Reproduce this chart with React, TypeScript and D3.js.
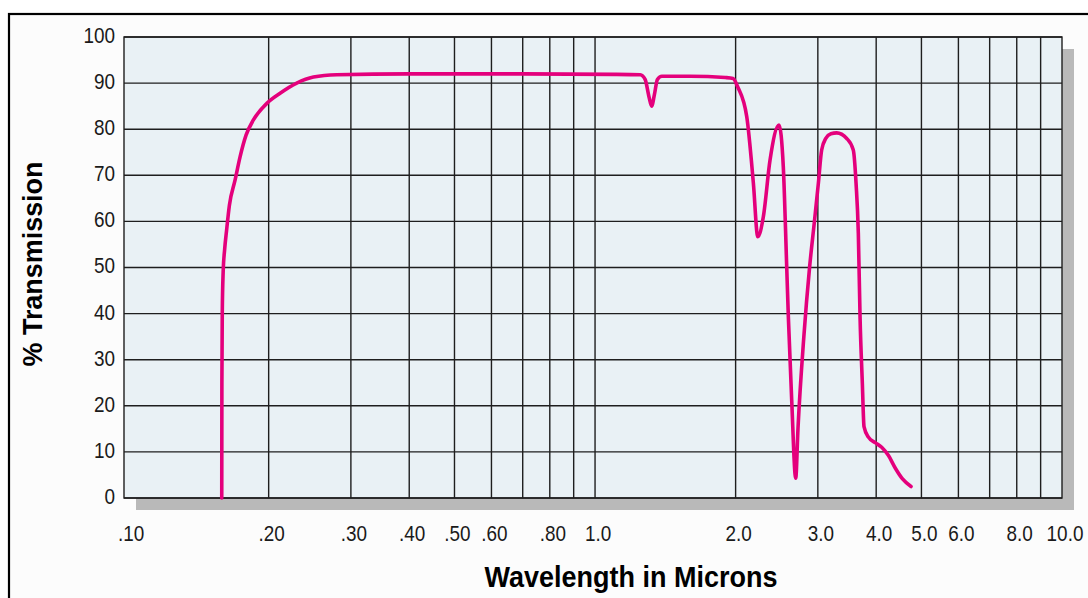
import React, { useEffect, useRef } from 'react';
import * as d3 from 'd3';

// wavelength (microns) vs % transmission
const wavelength = [
  0.1587, 0.1588, 0.1591, 0.1598, 0.161, 0.1625, 0.1648, 0.1695, 0.1737, 0.1789, 0.1855, 0.1982, 0.2116, 0.2297,
  0.2494, 0.2798, 0.4, 0.7, 1.1, 1.25, 1.28, 1.305, 1.322, 1.34, 1.36, 1.39, 1.6, 1.9, 1.975, 2.02, 2.113, 2.183,
  2.231, 2.293, 2.37, 2.477, 2.53, 2.573, 2.594, 2.637, 2.69, 2.72, 2.8, 2.88, 2.95, 3.008, 3.057, 3.12, 3.2, 3.292,
  3.459, 3.573, 3.622, 3.663, 3.694, 3.736, 3.767, 3.85, 3.98, 4.11, 4.25, 4.4, 4.55, 4.75,
];
const transmission = [
  0, 25, 40, 49, 54, 58, 63.5, 69, 74, 78.7, 82, 85.6, 87.8, 90,
  91.3, 91.8, 92, 92, 91.9, 91.8, 90.8, 87, 85, 87.5, 90.8, 91.5, 91.5, 91.2, 91, 89.2, 82.7, 68.3,
  56.7, 61, 73.3, 80.9, 71.9, 50.2, 39.3, 21.3, 4.3, 15, 35, 50, 60, 68.3, 75.5, 78, 79, 79.2,
  78, 75.5, 68.3, 57.4, 39.3, 24.9, 15.5, 13.2, 12, 11, 9.2, 6.4, 4.2, 2.5,
];

const xGrid = [0.2, 0.3, 0.4, 0.5, 0.6, 0.7, 0.8, 0.9, 1, 2, 3, 4, 5, 6, 7, 8, 9];
const xTickValues = [0.1, 0.2, 0.3, 0.4, 0.5, 0.6, 0.8, 1, 2, 3, 4, 5, 6, 8, 10];
const xTickLabels = ['.10', '.20', '.30', '.40', '.50', '.60', '.80', '1.0', '2.0', '3.0', '4.0', '5.0', '6.0', '8.0', '10.0'];
const yTickValues = [0, 10, 20, 30, 40, 50, 60, 70, 80, 90, 100];

const W = 1088;
const H = 598;
const margin = { left: 124, top: 37, right: 1062, bottom: 498 };
const FONT = "'Liberation Sans', Arial, sans-serif";

const App: React.FC = () => {
  const svgRef = useRef<SVGSVGElement>(null);

  useEffect(() => {
    const svg = d3.select(svgRef.current);
    svg.selectAll('*').remove();

    const x = d3.scaleLog().domain([0.098, 10]).range([margin.left, margin.right]);
    const y = d3.scaleLinear().domain([0, 100]).range([margin.bottom, margin.top]);
    const pw = margin.right - margin.left;
    const ph = margin.bottom - margin.top;

    // page + frame
    svg.append('rect').attr('width', W).attr('height', H).attr('fill', '#ffffff');
    svg.append('rect')
      .attr('x', 9).attr('y', 14).attr('width', W + 20).attr('height', H + 20)
      .attr('fill', '#fcfcfc').attr('stroke', '#000').attr('stroke-width', 2.2);

    // drop shadow + plot background
    svg.append('rect')
      .attr('x', margin.left + 12).attr('y', margin.top + 12)
      .attr('width', pw).attr('height', ph).attr('fill', '#b9b9b9');
    svg.append('rect')
      .attr('x', margin.left).attr('y', margin.top)
      .attr('width', pw).attr('height', ph).attr('fill', '#e9f1f5');

    // grid
    const grid = svg.append('g').attr('stroke', '#1e1e1e').attr('stroke-width', 1.4);
    grid.selectAll('line.v')
      .data(xGrid)
      .join('line')
      .attr('class', 'v')
      .attr('x1', (d) => x(d)).attr('x2', (d) => x(d))
      .attr('y1', margin.top).attr('y2', margin.bottom);
    grid.selectAll('line.h')
      .data(yTickValues)
      .join('line')
      .attr('class', 'h')
      .attr('x1', margin.left).attr('x2', margin.right)
      .attr('y1', (d) => y(d)).attr('y2', (d) => y(d));
    grid.append('rect')
      .attr('x', margin.left).attr('y', margin.top)
      .attr('width', pw).attr('height', ph).attr('fill', 'none');

    // y tick labels (condensed look via horizontal squeeze)
    svg.append('g')
      .selectAll('text')
      .data(yTickValues)
      .join('text')
      .attr('transform', (d) => `translate(115,${y(d) - 2}) scale(0.86,1)`)
      .attr('dy', '0.36em')
      .attr('text-anchor', 'end')
      .attr('font-family', FONT)
      .attr('font-size', 22)
      .attr('fill', '#1a1a1a')
      .text((d) => String(d));

    // x tick labels
    svg.append('g')
      .selectAll('text')
      .data(xTickValues)
      .join('text')
      .attr('transform', (d) => `translate(${x(d) + 3},533) scale(0.86,1)`)
      .attr('dy', '0.36em')
      .attr('text-anchor', 'middle')
      .attr('font-family', FONT)
      .attr('font-size', 22)
      .attr('fill', '#1a1a1a')
      .text((_, i) => xTickLabels[i]);

    // axis titles
    svg.append('text')
      .attr('x', 631)
      .attr('y', 587)
      .attr('text-anchor', 'middle')
      .attr('font-family', FONT)
      .attr('font-weight', 'bold')
      .attr('font-size', 30)
      .attr('textLength', 293)
      .attr('lengthAdjust', 'spacingAndGlyphs')
      .text('Wavelength in Microns');
    svg.append('text')
      .attr('transform', 'translate(42,264) rotate(-90)')
      .attr('text-anchor', 'middle')
      .attr('font-family', FONT)
      .attr('font-weight', 'bold')
      .attr('font-size', 27)
      .attr('textLength', 205)
      .attr('lengthAdjust', 'spacingAndGlyphs')
      .text('% Transmission');

    // curve
    const pts = wavelength.map((w, i) => [w, transmission[i]] as [number, number]);
    const line = d3.line<[number, number]>()
      .x((d) => x(d[0]))
      .y((d) => y(d[1]))
      .curve(d3.curveMonotoneX);
    svg.append('path')
      .datum(pts)
      .attr('d', line)
      .attr('fill', 'none')
      .attr('stroke', '#e4007c')
      .attr('stroke-width', 3.6)
      .attr('stroke-linejoin', 'round')
      .attr('stroke-linecap', 'round');

    return () => {
      svg.selectAll('*').remove();
    };
  }, []);

  return (
    <svg
      ref={svgRef}
      width={W}
      height={H}
      style={{ position: 'absolute', left: 0, top: 0, display: 'block' }}
    />
  );
};

export default App;
